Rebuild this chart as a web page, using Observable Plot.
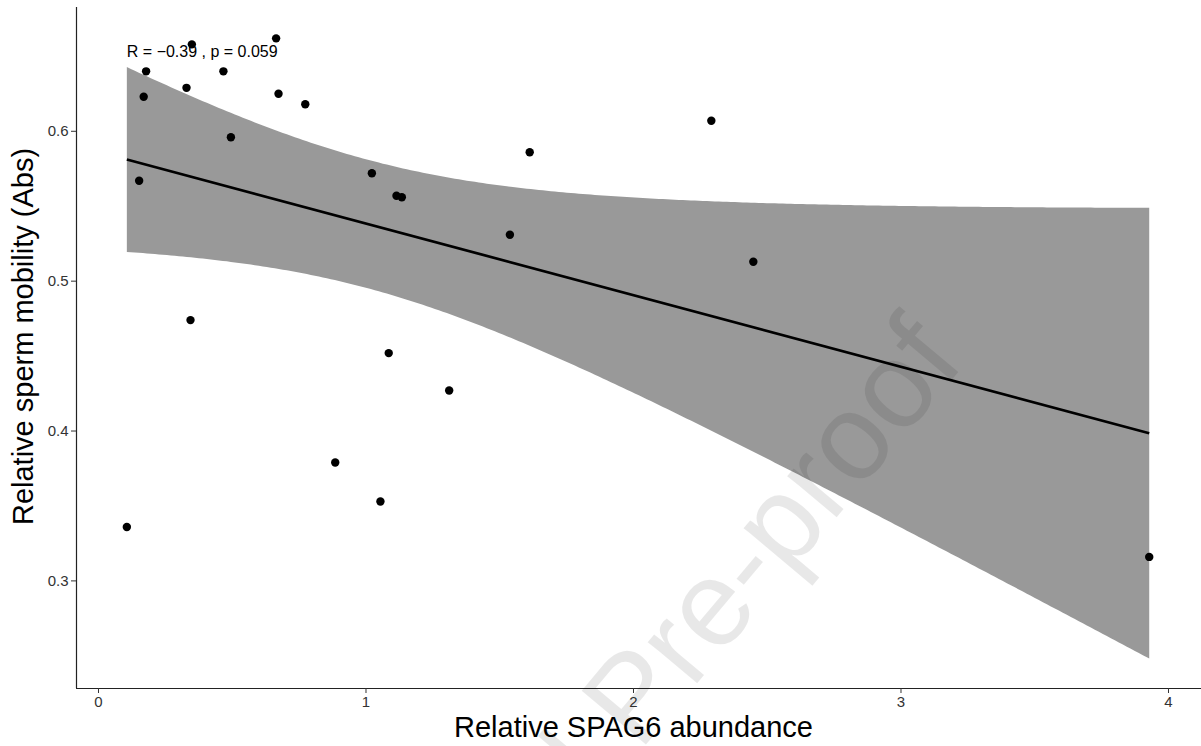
<!DOCTYPE html>
<html>
<head>
<meta charset="utf-8">
<script src="https://cdn.jsdelivr.net/npm/d3@7"></script>
<script src="https://cdn.jsdelivr.net/npm/@observablehq/plot@0.6"></script>
<style>
  html, body { margin: 0; padding: 0; background: #fff; }
  #chart svg { display: block; }
</style>
</head>
<body>
<div id="chart"></div>
<script>
// ---- data ----
const spag6 = [0.106, 0.152, 0.169, 0.178, 0.329, 0.344, 0.349, 0.467, 0.495, 0.664, 0.673, 0.773,
               0.885, 1.022, 1.054, 1.085, 1.114, 1.134, 1.311, 1.538, 1.612, 2.291, 2.448, 3.928];
const mobility = [0.336, 0.567, 0.623, 0.640, 0.629, 0.474, 0.658, 0.640, 0.596, 0.662, 0.625, 0.618,
                  0.379, 0.572, 0.353, 0.452, 0.557, 0.556, 0.427, 0.531, 0.586, 0.607, 0.513, 0.316];
const xTicks = [0, 1, 2, 3, 4];
const yTicks = [0.3, 0.4, 0.5, 0.6];
const xTitle = "Relative SPAG6 abundance";
const yTitle = "Relative sperm mobility (Abs)";
const corR = "\u22120.39";
const corP = "0.059";
const watermark = "Journal Pre-proof";

const table = spag6.map((x, i) => ({x, y: mobility[i]}));
const xDomain = [-0.0822, 4.1234];
const yDomain = [0.2282, 0.6826];
const font = "'Liberation Sans', Arial, Helvetica, sans-serif";

const chart = Plot.plot({
  width: 1201,
  height: 746,
  marginLeft: 76,
  marginRight: 0,
  marginTop: 7,
  marginBottom: 58,
  style: {fontFamily: font, background: "white", color: "black"},
  x: {domain: xDomain},
  y: {domain: yDomain},
  marks: [
    Plot.linearRegressionY(table, {
      x: "x", y: "y", ci: 0.95,
      fill: "#999999", fillOpacity: 1,
      stroke: "black", strokeWidth: 2.7, strokeLinecap: "butt"
    }),
    Plot.dot(table, {x: "x", y: "y", r: 4.2, fill: "black"}),
    Plot.ruleY([yDomain[0]], {stroke: "#222", strokeWidth: 1.2}),
    Plot.ruleX([xDomain[0]], {stroke: "#222", strokeWidth: 1.2}),
    Plot.axisX({ticks: xTicks, tickFormat: d => `${d}`, tickSize: 5, tickPadding: 3, fontSize: 15, color: "#333", label: null}),
    Plot.axisY({ticks: yTicks, tickFormat: d => `${d}`, tickSize: 5, tickPadding: 3, fontSize: 15, color: "#333", label: null}),
    Plot.text([`R = ${corR} , p = ${corP}`], {
      x: () => d3.min(spag6), y: () => 0.653, text: d => d,
      textAnchor: "start", lineAnchor: "middle", fontSize: 16, fill: "black",
      ariaLabel: "stat-label"
    }),
    Plot.text([xTitle], {
      frameAnchor: "bottom", dy: 39.5, dx: -5.5, text: d => d,
      textAnchor: "middle", lineAnchor: "middle", fontSize: 29, fill: "black"
    }),
    Plot.text([yTitle], {
      frameAnchor: "left", dx: -53, dy: -11.5, rotate: -90, text: d => d,
      textAnchor: "middle", lineAnchor: "middle", fontSize: 29, fill: "black"
    }),
    Plot.text([watermark], {
      frameAnchor: "top-left", dx: 860, dy: 330, rotate: -50, text: d => d,
      textAnchor: "end", lineAnchor: "middle", fontSize: 122, fill: "black", fillOpacity: 0.09
    })
  ]
});

// italic R and p in the correlation label
const lab = chart.querySelector('g[aria-label="stat-label"] text');
if (lab) {
  const ns = "http://www.w3.org/2000/svg";
  lab.textContent = "";
  const parts = [["R", true], [` = ${corR} , `, false], ["p", true], [` = ${corP}`, false]];
  for (const [t, it] of parts) {
    const ts = document.createElementNS(ns, "tspan");
    if (it) ts.setAttribute("font-style", "italic");
    ts.textContent = t;
    lab.appendChild(ts);
  }
}
document.getElementById("chart").appendChild(chart);
</script>
</body>
</html>
